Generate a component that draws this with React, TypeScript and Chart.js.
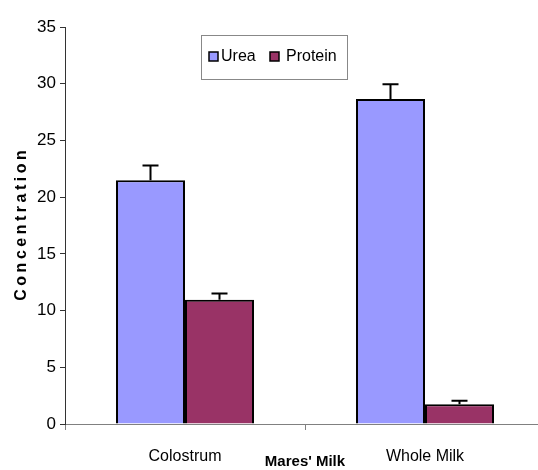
import React, { useEffect, useRef } from "react";
import { Chart, registerables } from "chart.js";

Chart.register(...registerables);

const categories = ["Colostrum", "Whole Milk"];
const seriesNames = ["Urea", "Protein"];
const ureaValues = [21.5, 28.65];
const proteinValues = [10.95, 1.75];
const ureaErrors = [1.3, 1.3];
const proteinErrors = [0.55, 0.3];
const yTickValues = [0, 5, 10, 15, 20, 25, 30, 35];
const xAxisTitle = "Mares' Milk";
const yAxisTitle = "Concentration";

const FONT = "'Liberation Sans', Arial, sans-serif";
const colors = ["#9999FF", "#993366"];
const errors = [ureaErrors, proteinErrors];

const customPlugin = {
  id: "custom",
  afterDatasetsDraw(chart: any) {
    const ctx = chart.ctx;
    const yScale = chart.scales.y;
    ctx.save();
    ctx.strokeStyle = "#000";
    ctx.lineWidth = 2;
    chart.data.datasets.forEach((ds: any, i: number) => {
      const meta = chart.getDatasetMeta(i);
      meta.data.forEach((bar: any, j: number) => {
        const v = ds.data[j];
        const e = errors[i][j];
        const yTop = yScale.getPixelForValue(v);
        const yErr = yScale.getPixelForValue(v + e);
        ctx.beginPath();
        ctx.moveTo(bar.x, yTop);
        ctx.lineTo(bar.x, yErr);
        ctx.moveTo(bar.x - 8, yErr);
        ctx.lineTo(bar.x + 8, yErr);
        ctx.stroke();
      });
    });
    ctx.restore();
  },
  afterDraw(chart: any) {
    const ctx = chart.ctx;
    const area = chart.chartArea;
    ctx.save();
    // legend box
    ctx.strokeStyle = "#888";
    ctx.lineWidth = 1;
    ctx.fillStyle = "#fff";
    ctx.fillRect(201.5, 35.5, 146, 44);
    ctx.strokeRect(201.5, 35.5, 146, 44);
    const items = [
      { x: 209, tx: 221 },
      { x: 270, tx: 286 },
    ];
    ctx.font = `16px ${FONT}`;
    ctx.textBaseline = "middle";
    ctx.textAlign = "left";
    chart.data.datasets.forEach((ds: any, i: number) => {
      const it = items[i];
      ctx.fillStyle = ds.backgroundColor;
      ctx.fillRect(it.x, 52, 9, 9);
      ctx.strokeStyle = "#000";
      ctx.lineWidth = 1.5;
      ctx.strokeRect(it.x, 52, 9, 9);
      ctx.fillStyle = "#000";
      ctx.fillText(ds.label, it.tx, 57);
    });
    // x axis title
    ctx.font = `bold 15px ${FONT}`;
    ctx.textAlign = "center";
    ctx.textBaseline = "middle";
    ctx.fillStyle = "#000";
    ctx.fillText(xAxisTitle, (area.left + area.right) / 2, 462);
    // y axis title
    ctx.translate(22, (area.top + area.bottom) / 2);
    ctx.rotate(-Math.PI / 2);
    (ctx as any).letterSpacing = "3.5px";
    ctx.font = `bold 16px ${FONT}`;
    ctx.fillText(yAxisTitle, 1.75, 0);
    ctx.restore();
  },
};

export default function App() {
  const ref = useRef<HTMLCanvasElement>(null);
  useEffect(() => {
    const canvas = ref.current!;
    const chart = new Chart(canvas, {
      type: "bar",
      data: {
        labels: categories,
        datasets: [
          {
            label: seriesNames[0],
            data: ureaValues,
            backgroundColor: colors[0],
            borderColor: "#000",
            borderWidth: 2,
            categoryPercentage: 0.575,
            barPercentage: 1,
          },
          {
            label: seriesNames[1],
            data: proteinValues,
            backgroundColor: colors[1],
            borderColor: "#000",
            borderWidth: 2,
            categoryPercentage: 0.575,
            barPercentage: 1,
          },
        ],
      },
      options: {
        animation: false,
        responsive: false,
        devicePixelRatio: 1,
        layout: { padding: { top: 27, right: 3, left: 0, bottom: 0 } },
        plugins: { legend: { display: false }, tooltip: { enabled: false } },
        scales: {
          x: {
            grid: {
              display: true,
              drawOnChartArea: false,
              offset: true,
              tickLength: 6,
              color: "#808080",
            },
            border: { color: "#808080", width: 1 },
            ticks: {
              color: "#000",
              font: { family: FONT, size: 16 },
              padding: 17,
            },
            afterFit: (s: any) => {
              s.height = 46;
            },
          },
          y: {
            min: 0,
            max: 35,
            afterBuildTicks: (s: any) => {
              s.ticks = yTickValues.map((v) => ({ value: v }));
            },
            grid: {
              display: true,
              drawOnChartArea: false,
              tickLength: 5,
              color: "#333",
            },
            border: { color: "#333", width: 1 },
            ticks: {
              color: "#000",
              font: { family: FONT, size: 17 },
              padding: 4,
            },
            afterFit: (s: any) => {
              s.width = 65;
            },
          },
        },
      },
      plugins: [customPlugin],
    });
    return () => chart.destroy();
  }, []);
  return (
    <div
      style={{
        position: "fixed",
        left: 0,
        top: 0,
        width: 538,
        height: 470,
        overflow: "hidden",
        background: "#fff",
      }}
    >
      <canvas ref={ref} width={548} height={470} style={{ display: "block" }} />
    </div>
  );
}
